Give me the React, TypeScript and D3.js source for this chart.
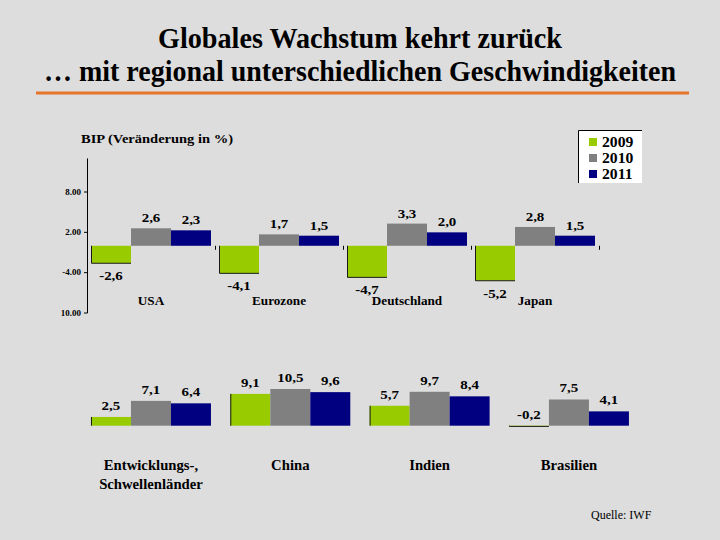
import React from "react";
import * as d3 from "d3";

const years = ["2009", "2010", "2011"];
const seriesColors = ["#99cc00", "#808080", "#000080"];

const topCategories = ["USA", "Eurozone", "Deutschland", "Japan"];
const top2009 = [-2.6, -4.1, -4.7, -5.2];
const top2010 = [2.6, 1.7, 3.3, 2.8];
const top2011 = [2.3, 1.5, 2.0, 1.5];

const bottomCategories = [["Entwicklungs-,", "Schwellenländer"], ["China"], ["Indien"], ["Brasilien"]];
const bottom2009 = [2.5, 9.1, 5.7, -0.2];
const bottom2010 = [7.1, 10.5, 9.7, 7.5];
const bottom2011 = [6.4, 9.6, 8.4, 4.1];

const yTickValues = [8, 2, -4, -10];
const yTickLabels = ["8.00", "2.00", "-4.00", "10.00"];

const fmt = (v: number) => v.toFixed(1).replace(".", ",");

const SERIF = "Liberation Serif";

function T(props: {
  x: number; y: number; anchor?: string; size: number; weight?: string; sx?: number; fill?: string; children: any; len?: number;
}) {
  const { x, y, anchor = "middle", size, weight = "bold", sx = 1, fill = "#000", children, len } = props;
  return (
    <text
      transform={`translate(${x},${y}) scale(${sx},1)`}
      textAnchor={anchor}
      style={{ fontFamily: SERIF, fontSize: size, fontWeight: weight as any }}
      fill={fill}
      {...(len ? { textLength: len, lengthAdjust: "spacingAndGlyphs" } : {})}
    >
      {children}
    </text>
  );
}

export default function App() {
  const W = 720, H = 540;

  // top chart
  const topSeries = [top2009, top2010, top2011];
  const xTop = d3.scaleBand<string>().domain(topCategories).range([87, 599]).paddingInner(0).paddingOuter(0);
  const inner = d3.scaleBand<string>().domain(years).range([0, 120]);
  const topOff = (xTop.bandwidth() - 120) / 2;
  const yTop = d3.scaleLinear().domain([-10, 13]).range([313, 158.4]);
  const y0Top = yTop(0);

  // bottom chart
  const bottomSeries = [bottom2009, bottom2010, bottom2011];
  const bottomKeys = bottomCategories.map((c) => c.join(" "));
  const xBot = d3.scaleBand<string>().domain(bottomKeys).range([81.3, 638.6]);
  const botOff = (xBot.bandwidth() - 120) / 2;
  const yBot = d3.scaleLinear().domain([0, 10.5]).range([425.7, 389]);
  const y0Bot = yBot(0);

  const edge = "#1a1a1a";

  return (
    <div style={{ position: "absolute", left: 0, top: 0 }}>
      <svg width={W} height={H} style={{ display: "block" }}>
        <rect x={0} y={0} width={W} height={H} fill="#dddddd" />
        {/* Title */}
        <T x={360} y={48} size={29} len={404}>Globales Wachstum kehrt zurück</T>
        <T x={360} y={81} size={29} len={632}>… mit regional unterschiedlichen Geschwindigkeiten</T>
        <line x1={36} x2={689} y1={93} y2={93} stroke="#e8742a" strokeWidth={3} />

        {/* Top chart */}
        <T x={81} y={143} anchor="start" size={13} len={152}>BIP (Veränderung in %)</T>

        {/* y axis */}
        <line x1={87.5} x2={87.5} y1={yTop(13)} y2={yTop(-10)} stroke="#000" strokeWidth={1} />
        {yTickValues.map((v, i) => (
          <g key={"yt" + i}>
            <line x1={84} x2={87.5} y1={yTop(v)} y2={yTop(v)} stroke="#000" />
            <T x={81} y={yTop(v) + 2.5} anchor="end" size={7.5} sx={1.2}>{yTickLabels[i]}</T>
          </g>
        ))}
        {/* x ticks at category boundaries */}
        {topCategories.slice(1).map((c) => (
          <line key={"xt" + c} x1={(xTop(c) as number) + 0.5} x2={(xTop(c) as number) + 0.5} y1={y0Top} y2={y0Top + 4} stroke="#000" />
        ))}
        <line x1={599.5} x2={599.5} y1={y0Top} y2={y0Top + 4} stroke="#000" />

        {topCategories.map((c, ci) => (
          <g key={"tc" + c}>
            {topSeries.map((s, si) => {
              const v = s[ci];
              const x = (xTop(c) as number) + topOff + (inner(years[si]) as number);
              const w = inner.bandwidth();
              const yv = yTop(v);
              const y = Math.min(yv, y0Top);
              const h = Math.abs(yv - y0Top);
              const ly = v >= 0 ? yv - 6 : yv + 17;
              return (
                <g key={si}>
                  <rect x={x} y={y} width={w} height={h} fill={seriesColors[si]} />
                  {si === 0 && (
                    <path d={`M${x + 0.5},${y0Top} L${x + 0.5},${yv} L${x + w},${yv}`} fill="none" stroke={edge} strokeWidth={1} />
                  )}
                  <T x={x + w / 2} y={ly} size={13} sx={1.15}>{fmt(v)}</T>
                </g>
              );
            })}
            <T x={(xTop(c) as number) + topOff + (inner(years[1]) as number) + inner.bandwidth() / 2} y={305} size={12} sx={1.1}>{c}</T>
          </g>
        ))}

        {/* Legend */}
        <rect x={578} y={130} width={64} height={53} fill="#ffffff" />
        <path d="M578.5,183 L578.5,130.5 L642,130.5" fill="none" stroke="#000" strokeWidth={1} />
        {years.map((yr, i) => (
          <g key={"lg" + yr}>
            <rect x={589} y={138 + i * 16} width={8} height={8} fill={seriesColors[i]} />
            <T x={602} y={147 + i * 16} anchor="start" size={14} sx={1.12}>{yr}</T>
          </g>
        ))}

        {/* Bottom chart */}
        {bottomKeys.map((k, ci) => (
          <g key={"bc" + k}>
            {bottomSeries.map((s, si) => {
              const v = s[ci];
              const x = (xBot(k) as number) + botOff + (inner(years[si]) as number);
              const w = inner.bandwidth();
              const yv = yBot(v);
              const y = Math.min(yv, y0Bot);
              const h = Math.max(Math.abs(yv - y0Bot), 0);
              const ly = Math.min(yv, y0Bot) - 7;
              return (
                <g key={si}>
                  <rect x={x} y={y} width={w} height={h} fill={seriesColors[si]} />
                  {si === 0 && (
                    <path d={`M${x + 0.5},${y0Bot} L${x + 0.5},${yv} ${v < 0 ? `L${x + w},${yv}` : ""}`} fill="none" stroke={edge} strokeWidth={1} />
                  )}
                  <T x={x + w / 2} y={ly} size={13} sx={1.15}>{fmt(v)}</T>
                </g>
              );
            })}
            {bottomCategories[ci].map((line, li) => (
              <T key={li} x={(xBot(k) as number) + botOff + (inner(years[1]) as number) + inner.bandwidth() / 2} y={470 + li * 19} size={14} sx={1.05}>{line}</T>
            ))}
          </g>
        ))}

        <T x={591} y={519} anchor="start" size={12} weight="normal">Quelle: IWF</T>
      </svg>
    </div>
  );
}
